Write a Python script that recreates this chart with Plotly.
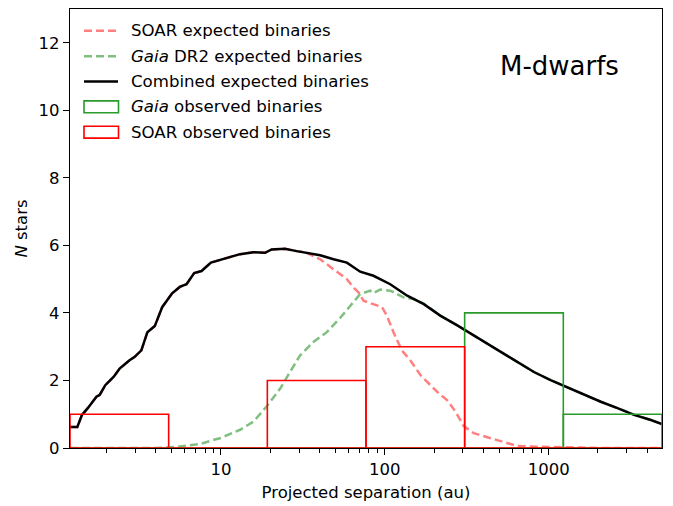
import plotly.graph_objects as go

# ---- expected number of binaries vs projected separation (M dwarfs) ----
# combined expectation
comb_sep = [1.2, 1.33, 1.42, 1.54, 1.74, 1.82, 1.97, 2.22, 2.41, 2.77, 2.98, 3.27,
            3.56, 3.95, 4.38, 5.04, 5.61, 6.17, 6.87, 7.62, 8.69, 10.6, 13.1, 15.8,
            18.6, 20.4, 24.6, 29.0, 35.0, 40.3, 48.7, 58.7, 70.8, 85.3, 108, 137,
            173, 218, 277, 349, 442, 559, 674, 813, 1028, 1241, 1645, 2080, 2630,
            3325, 4205, 4915]
comb_n = [0.62, 0.62, 0.98, 1.18, 1.52, 1.57, 1.86, 2.11, 2.35, 2.60, 2.70, 2.89,
          3.43, 3.61, 4.17, 4.58, 4.77, 4.85, 5.18, 5.24, 5.49, 5.61, 5.74, 5.80,
          5.78, 5.88, 5.90, 5.83, 5.76, 5.71, 5.59, 5.49, 5.22, 5.10, 4.85, 4.51,
          4.26, 3.92, 3.63, 3.33, 3.04, 2.74, 2.50, 2.25, 2.01, 1.84, 1.57, 1.37,
          1.18, 0.98, 0.83, 0.71]

# SOAR expectation
soar_sep = [1.2, 1.33, 1.42, 1.54, 1.74, 1.82, 1.97, 2.22, 2.41, 2.77, 2.98, 3.27,
            3.56, 3.95, 4.38, 5.04, 5.61, 6.17, 6.87, 7.62, 8.69, 10.6, 13.1, 15.8,
            18.6, 20.4, 24.6, 29.0, 32.7, 40.3, 48.7, 58.7, 64.4, 69.1, 74.2, 85.3,
            96.2, 103, 113, 127, 143, 165, 185, 213, 240, 270, 303, 349, 442, 559,
            644, 853, 1183, 2000, 4915]
soar_n = [0.62, 0.62, 0.98, 1.18, 1.52, 1.57, 1.86, 2.11, 2.35, 2.60, 2.70, 2.89,
          3.43, 3.61, 4.17, 4.58, 4.77, 4.85, 5.18, 5.24, 5.49, 5.61, 5.74, 5.80,
          5.78, 5.88, 5.90, 5.83, 5.80, 5.59, 5.29, 5.00, 4.75, 4.61, 4.36, 4.26,
          4.17, 3.92, 3.43, 2.89, 2.60, 2.16, 1.91, 1.62, 1.42, 1.08, 0.65, 0.44,
          0.29, 0.15, 0.06, 0.04, 0.02, 0.0, 0.0]

# Gaia DR2 expectation
gaia_sep = [1.2, 4.0, 5.24, 6.6, 7.45, 9.19, 9.86, 13.1, 15.8, 19.0, 23.0, 26.4,
            30.4, 36.7, 44.3, 53.4, 64.4, 70.8, 81.5, 85.3, 93.8, 108, 130, 150,
            173, 218, 277, 349, 442, 559, 674, 813, 1028, 1241, 1645, 2080, 2630,
            3325, 4205, 4915]
gaia_n = [0.0, 0.0, 0.03, 0.08, 0.12, 0.25, 0.29, 0.54, 0.78, 1.23, 1.76, 2.25,
          2.74, 3.14, 3.43, 3.85, 4.31, 4.56, 4.66, 4.59, 4.69, 4.66, 4.46, 4.41,
          4.28, 3.92, 3.63, 3.33, 3.04, 2.74, 2.50, 2.25, 2.01, 1.84, 1.57, 1.37,
          1.18, 0.98, 0.83, 0.71]

# observed binaries, bins a factor of 4 wide
bin_edges = [1.2, 4.8, 19.2, 76.8, 307.2, 1228.8, 4915.2]
soar_counts = [1, 0, 2, 3, 0, 0]
gaia_counts = [0, 0, 0, 0, 4, 1]

x_ticks = [10, 100, 1000]
x_minor = [2, 3, 4, 5, 6, 7, 8, 9, 20, 30, 40, 50, 60, 70, 80, 90,
           200, 300, 400, 500, 600, 700, 800, 900, 2000, 3000, 4000]
y_ticks = [0, 2, 4, 6, 8, 10, 12]

FONT = "DejaVu Sans"
FS = 16.5
RED_LIGHT = "#ff8080"
GREEN_LIGHT = "#80bf80"
GREEN = "#2a9a2a"
RED = "#ff0000"


def bar_outline(edges, counts):
    """Closed rectangle outline for every bin, separated by gaps."""
    xs, ys = [], []
    for i, c in enumerate(counts):
        l, r = edges[i], edges[i + 1]
        xs += [l, l, r, r, l, None]
        ys += [0, c, c, 0, 0, None]
    return xs, ys


fig = go.Figure()
fig.add_trace(go.Scatter(x=soar_sep, y=soar_n, mode="lines",
                         line=dict(color=RED_LIGHT, width=2.5, dash="8px,4px"),
                         showlegend=False))
fig.add_trace(go.Scatter(x=gaia_sep, y=gaia_n, mode="lines",
                         line=dict(color=GREEN_LIGHT, width=2.5, dash="8px,4px"),
                         showlegend=False))
fig.add_trace(go.Scatter(x=comb_sep, y=comb_n, mode="lines",
                         line=dict(color="black", width=2.5),
                         showlegend=False))
gx, gy = bar_outline(bin_edges, gaia_counts)
fig.add_trace(go.Scatter(x=gx, y=gy, mode="lines",
                         line=dict(color=GREEN, width=1.6), showlegend=False))
sx, sy = bar_outline(bin_edges, soar_counts)
fig.add_trace(go.Scatter(x=sx, y=sy, mode="lines",
                         line=dict(color=RED, width=1.6), showlegend=False))

# plot area in pixels
PL, PR, PT, PB = 70, 662, 8, 450
W, H = 673, 506


def px(x):
    return (x - PL) / (PR - PL)


def py(y):
    return (PB - y) / (PB - PT)


# hand-made legend (top left, no frame)
legend_rows = [
    ("SOAR expected binaries", "line", RED_LIGHT, "8px,4px"),
    ("<i>Gaia</i> DR2 expected binaries", "line", GREEN_LIGHT, "8px,4px"),
    ("Combined expected binaries", "line", "black", "solid"),
    ("<i>Gaia</i> observed binaries", "box", GREEN, None),
    ("SOAR observed binaries", "box", RED, None),
]
row_y = [30, 55.5, 81, 106.5, 132]
shapes = []
annotations = []
for (label, kind, color, dash), yc in zip(legend_rows, row_y):
    if kind == "line":
        shapes.append(dict(type="line", xref="paper", yref="paper",
                           x0=px(84), x1=px(118), y0=py(yc), y1=py(yc),
                           line=dict(color=color, width=2.5, dash=dash)))
    else:
        shapes.append(dict(type="rect", xref="paper", yref="paper",
                           x0=px(84), x1=px(118.5), y0=py(yc - 6), y1=py(yc + 6),
                           line=dict(color=color, width=1.6)))
    annotations.append(dict(text=label, xref="paper", yref="paper",
                            x=px(129), y=py(yc), xanchor="left", yanchor="middle",
                            showarrow=False,
                            font=dict(family=FONT, size=16.6, color="black")))

annotations.append(dict(text="M-dwarfs", xref="paper", yref="paper",
                        x=px(559), y=py(65), xanchor="center", yanchor="middle",
                        showarrow=False,
                        font=dict(family=FONT, size=26, color="black")))

fig.update_layout(
    width=W, height=H,
    margin=dict(l=PL, r=W - PR, t=PT, b=H - PB),
    paper_bgcolor="white", plot_bgcolor="white",
    font=dict(family=FONT, size=FS, color="black"),
    shapes=shapes, annotations=annotations,
    showlegend=False,
)
fig.update_xaxes(
    type="log", range=[0.0792, 3.6916],
    tickvals=x_ticks, ticktext=[str(v) for v in x_ticks],
    ticks="outside", ticklen=6, tickwidth=1, tickcolor="black",
    minor=dict(tickvals=x_minor, ticks="outside", ticklen=3.5, tickwidth=0.8,
               tickcolor="black", showgrid=False),
    showline=True, linecolor="black", linewidth=1.2, mirror=True,
    showgrid=False, zeroline=False,
    tickfont=dict(family=FONT, size=FS, color="black"),
    title=dict(text="Projected separation (au)", standoff=8,
               font=dict(family=FONT, size=FS, color="black")),
)
fig.update_yaxes(
    range=[0, 13], tickvals=y_ticks,
    ticks="outside", ticklen=6, tickwidth=1, tickcolor="black",
    showline=True, linecolor="black", linewidth=1.2, mirror=True,
    showgrid=False, zeroline=False,
    tickfont=dict(family=FONT, size=FS, color="black"),
    title=dict(text="<i>N</i> stars", standoff=6,
               font=dict(family=FONT, size=FS, color="black")),
)

fig.write_html("out.html")
